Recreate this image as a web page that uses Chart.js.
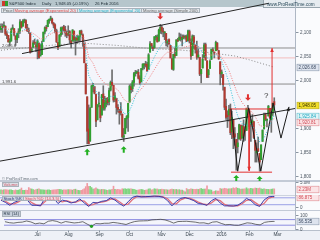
<!DOCTYPE html>
<html><head><meta charset="utf-8">
<script src="https://cdn.jsdelivr.net/npm/chart.js"></script>
<style>
*{box-sizing:border-box}
html,body{margin:0;padding:0}
body{width:320px;height:240px;position:relative;overflow:hidden;background:#f4f5fb;font-family:"Liberation Sans",Arial,sans-serif;}
.bg{position:absolute;z-index:0}
canvas{position:absolute;left:0;z-index:1}
.tx{position:absolute;z-index:2;white-space:nowrap;font-size:4.2px;line-height:5px;color:#1c2a33}
.box{background:#e2e7ec;border:0.5px solid #a9b2bb;padding:0 1px;height:5.4px;line-height:4.6px}
</style></head><body>
<div class="bg" style="left:295px;top:0;width:25px;height:240px;background:#fafbfd"></div>
<div class="bg" style="left:0;top:0;width:320px;height:7px;background:#b6c6cc"></div>
<div class="bg" style="left:263px;top:0;width:57px;height:8px;background:#e6ecf0;border-left:1px solid #98a6ae;border-bottom:1px solid #98a6ae"></div>
<div class="bg" style="left:0;top:180px;width:320px;height:1.5px;background:#c3cad6"></div>
<div class="bg" style="left:0;top:194.5px;width:320px;height:1px;background:#cdd3de"></div>
<div class="bg" style="left:0;top:209.5px;width:320px;height:1.5px;background:#c3cad6"></div>
<div class="bg" style="left:0;top:230px;width:320px;height:10px;background:#eef1f7;border-top:1px solid #b8c0cc"></div>

<div class="tx" style="left:1.5px;top:1.2px;width:6px;height:4.5px;background:linear-gradient(90deg,#d03a30 50%,#2f9f2f 50%)"></div>
<div class="tx" style="left:9px;top:1.2px">S&amp;P500 Index</div>
<div class="tx" style="left:42px;top:1.2px">Daily</div>
<div class="tx" style="left:55px;top:1.2px">1,948.05 (-0.19%)</div>
<div class="tx" style="left:95px;top:1.2px">26 Feb 2016</div>
<div class="tx" style="left:267px;top:1.5px;font-size:4.6px;color:#2a4a5a">www.ProRealTime.com</div>

<div class="tx box" style="left:1px;top:7.6px;color:#555">Price</div>
<div class="tx box" style="left:12.5px;top:7.6px;color:#e04848">Moving average (Exponential 20)</div>
<div class="tx box" style="left:77px;top:7.6px;color:#1eb0c8">Moving average (Exponential 20)</div>
<div class="tx box" style="left:141px;top:7.6px;color:#666">Moving average (Simple 200)</div>

<div class="tx" style="left:2px;top:175.5px;font-size:4px;color:#66707a">© ProRealTime.com</div>
<div class="tx box" style="left:1.5px;top:181.8px;color:#d06070;background:#dcdfe6">Volume</div>
<div class="tx box" style="left:1.5px;top:195.8px;color:#2a3270;background:#cfd6e2">Stoch %K</div>
<div class="tx box" style="left:23px;top:195.8px;color:#d04a60;background:#f0dde2">Stoch %D (14,3,5)</div>
<div class="tx box" style="left:1.5px;top:211.2px;color:#2a3a4a;background:#c8d0dc">RSI (14)</div>
<div class="tx" id="lvlA" style="left:2px;top:0;color:#444">2,066.6</div>
<div class="tx" id="lvlB" style="left:2px;top:0;color:#444">1,991.6</div>
<div class="tx" id="qm" style="left:0;top:0;font-size:8px;line-height:8px;color:#333">?</div>

<canvas id="cMain" width="320" height="181" style="top:0"></canvas>
<canvas id="cVol" width="320" height="14" style="top:181px"></canvas>
<canvas id="cSto" width="320" height="15" style="top:195px"></canvas>
<canvas id="cRsi" width="320" height="30" style="top:210px"></canvas>
<script>
// ---------- DATA (daily, 1 Jun 2015 .. 26 Feb 2016) ----------
const candleOpen=[2105,2111,2110,2112,2096,2093,2079,2081,2106,2107,2092,2084,2097,2101,2121,2112,2123,2124,2109,2102,2098,2062,
2068,2078,2073,2069,2077,2050,2053,2080,2100,2109,2111,2123,2127,2127,2118,2115,2103,2078,2070,2094,2107,2111,
2105,2098,2096,2101,2082,2081,2102,2082,2087,2083,2090,2102,2094,2077,2034,1965,1898,1873,1943,1987,1986,
1970,1917,1950,1947,1927,1971,1941,1951,1963,1955,1979,1995,1989,1960,1962,1943,1935,1935,1929,1881,1888,
1919,1922,1954,1986,1982,1995,2014,2015,2016,2004,1996,2025,2031,2033,2033,2022,2058,2076,2068,2067,2089,2089,
2081,2102,2110,2101,2098,2097,2077,2084,2072,2044,2022,2053,2051,2083,2083,2089,2084,2089,2089,2091,
2082,2101,2081,2051,2090,2073,2061,2048,2047,2013,2025,2047,2074,2040,2011,2024,2043,2063,2058,2061,2077,2061,
2038,2013,2011,1985,1945,1927,1927,1940,1892,1917,1888,1876,1861,1877,1906,1879,1903,1895,1895,
1937,1935,1908,1911,1913,1874,1848,1857,1847,1834,1872,1898,1928,1916,1925,1941,1917,1931,1955];
const candleHigh=[2117,2117,2121,2113,2101,2093,2086,2108,2115,2107,2092,2098,2107,2126,2122,2126,2127,2126,2116,2108,2098,2067,
2082,2085,2078,2084,2077,2075,2081,2100,2111,2114,2125,2127,2133,2129,2120,2117,2106,2078,2095,2110,2111,2114,
2112,2102,2113,2103,2082,2105,2102,2090,2093,2092,2103,2104,2096,2077,2034,1965,1948,1943,1989,1993,1987,
1970,1948,1975,1947,1970,1988,1966,1962,1963,1983,1998,2021,1989,1974,1962,1949,1939,1953,1929,1899,1920,
1926,1951,1990,1992,1999,2016,2020,2019,2022,2009,2024,2034,2034,2039,2037,2055,2080,2076,2071,2090,2093,2094,
2106,2116,2114,2108,2101,2097,2084,2086,2072,2045,2054,2066,2084,2087,2098,2096,2094,2094,2093,2094,
2104,2104,2086,2094,2093,2073,2081,2065,2047,2022,2053,2077,2077,2040,2022,2042,2064,2067,2058,2081,2078,2062,
2038,2021,2012,1985,1960,1936,1947,1950,1935,1917,1901,1876,1889,1908,1906,1906,1917,1902,1940,
1947,1935,1918,1928,1914,1874,1869,1881,1847,1865,1896,1931,1931,1919,1947,1941,1933,1952,1963];
const candleLow=[2099,2099,2109,2093,2086,2079,2072,2081,2106,2092,2072,2078,2088,2097,2108,2112,2119,2108,2101,2097,2056,2058,
2068,2074,2059,2044,2045,2050,2053,2080,2096,2102,2111,2118,2124,2117,2109,2098,2078,2063,2070,2091,2095,2102,
2091,2088,2092,2077,2067,2081,2080,2052,2076,2080,2080,2094,2070,2036,1971,1867,1867,1872,1943,1975,1971,
1903,1917,1944,1913,1927,1937,1937,1944,1948,1948,1977,1987,1954,1955,1929,1933,1908,1927,1879,1872,1888,
1900,1893,1954,1973,1976,1987,2008,2013,2002,1991,1996,2021,2023,2027,2018,2022,2058,2066,2061,2066,2083,2079,
2081,2097,2096,2090,2084,2071,2069,2074,2046,2022,2020,2046,2051,2080,2083,2081,2071,2086,2085,2080,
2082,2077,2043,2051,2066,2056,2043,2046,2009,1994,2025,2047,2041,2005,2005,2024,2043,2059,2046,2061,2062,2043,
1990,2005,1979,1938,1918,1901,1914,1886,1878,1857,1864,1812,1848,1877,1874,1879,1872,1874,1895,
1921,1898,1872,1903,1878,1829,1829,1851,1810,1834,1872,1898,1915,1902,1925,1920,1891,1926,1937];
const candleClose=[2111.7,2109.6,2114.1,2095.8,2092.8,2079.3,2080.2,2105.2,2108.9,2094.1,2084.4,2096.3,2100.4,2121.2,2110.0,2122.9,2124.2,2108.6,2102.3,2101.5,2057.6,2063.1,
2077.4,2076.8,2068.8,2081.3,2046.7,2051.3,2076.6,2099.6,2109.0,2107.4,2124.3,2126.6,2128.3,2119.2,2114.2,2102.2,2079.7,2067.6,2093.3,2108.6,2108.6,2103.8,
2098.0,2093.3,2099.8,2083.6,2077.6,2104.2,2084.1,2086.1,2083.4,2091.5,2102.4,2096.9,2079.6,2035.7,1970.9,1893.2,1867.6,1940.5,1987.7,1988.9,1972.2,
1913.9,1948.9,1951.1,1921.2,1969.4,1942.0,1952.3,1961.1,1953.0,1978.1,1995.3,1990.2,1958.0,1967.0,1942.7,1938.8,1932.2,1931.3,1881.8,1884.1,1920.0,
1923.8,1951.4,1987.1,1979.9,1995.8,2013.4,2014.9,2017.5,2003.7,1994.2,2023.9,2033.1,2033.7,2030.8,2018.9,2052.5,2075.2,2071.2,2065.9,2090.4,2089.4,2079.4,
2104.1,2109.8,2102.3,2099.9,2099.2,2078.6,2081.7,2075.0,2046.0,2023.0,2053.2,2050.4,2083.6,2081.2,2089.2,2086.6,2089.1,2088.9,2090.1,2080.4,
2102.6,2079.5,2049.6,2091.7,2077.1,2063.6,2047.6,2052.2,2012.4,2021.9,2043.4,2073.1,2041.9,2005.6,2021.2,2039.0,2064.3,2061.0,2056.5,2078.4,2063.4,2043.9,
2012.7,2016.7,1990.3,1943.1,1922.0,1923.7,1938.7,1890.3,1921.8,1880.3,1881.3,1859.3,1869.0,1906.9,1877.1,1903.6,1883.0,1893.4,1940.2,
1939.4,1903.0,1912.5,1915.5,1880.1,1853.4,1852.2,1851.9,1829.1,1864.8,1895.6,1926.8,1917.8,1917.8,1945.5,1921.3,1929.8,1951.7,1948.05];
const volumeM=[1.8,1.7,1.8,1.9,1.8,1.7,1.8,1.8,1.6,1.5,1.8,1.6,1.7,1.9,2.6,1.6,1.6,1.7,1.6,2.8,2.3,2.2,
1.9,1.7,1.9,2.1,2.2,1.9,1.8,1.8,1.7,1.7,1.8,1.8,1.6,1.7,1.8,1.8,1.9,2.0,2.0,1.9,1.7,1.8,
1.8,1.8,1.9,1.9,1.8,1.7,2.0,2.1,1.7,1.6,1.5,1.6,1.9,2.3,3.2,4.6,3.3,3.3,2.8,2.1,2.3,
2.7,2.2,1.9,1.9,2.0,2.0,1.9,1.7,1.6,1.8,1.8,2.0,3.4,2.0,1.9,2.0,1.9,1.8,2.3,2.2,2.3,
2.1,2.2,2.2,2.2,2.1,2.0,1.8,1.6,1.8,1.9,2.0,1.9,1.6,1.7,1.8,2.2,2.3,1.8,1.9,2.3,2.1,2.2,
1.9,2.0,2.1,2.0,1.9,1.9,1.8,1.7,2.0,2.1,2.0,1.9,2.0,1.8,1.9,1.7,1.7,1.4,0.9,2.4,
1.9,2.0,2.2,2.1,2.0,2.0,2.1,2.0,2.2,2.4,2.1,2.1,2.2,3.6,1.9,1.8,1.7,0.9,1.2,1.4,1.3,1.3,
2.4,2.2,2.3,2.5,2.4,2.2,2.2,2.3,2.4,2.7,2.4,2.8,2.5,2.3,2.1,2.1,2.2,2.3,2.7,
2.2,2.3,2.5,2.3,2.3,2.6,2.5,2.4,2.6,2.2,2.1,2.2,2.1,2.0,2.0,1.9,2.1,2.2,2.23];

// sampled indicator readings (trading-day index)
const sampleIdx=[0,3,6,9,12,15,18,21,24,27,30,33,36,39,42,45,48,51,54,57,60,63,66,69,72,75,78,81,84,87,90,93,96,99,102,105,108,111,114,117,120,123,126,129,132,135,138,141,144,147,150,153,156,159,162,165,168,171,174,177,180,183,186,187];
const emaCyan=[2110,2108,2097,2096,2096,2104,2107,2095,2084,2073,2083,2098,2107,2100,2102,2100,2094,2091,2092,2081,2010,1992,1969,1962,1958,1966,1966,1955,1930,1929,1950,1975,1992,2009,2028,2048,2065,2078,2082,2070,2068,2073,2079,2081,2078,2071,2057,2046,2045,2053,2048,2023,1995,1958,1925,1909,1906,1910,1896,1871,1879,1899,1921,1925.84];
const emaPink=[2110,2110,2104,2101,2099,2102,2104,2099,2093,2085,2088,2094,2099,2098,2100,2099,2096,2094,2094,2088,2048,2035,2013,2000,1990,1988,1984,1976,1960,1953,1960,1972,1981,1993,2007,2022,2037,2050,2058,2057,2060,2064,2069,2071,2072,2069,2062,2055,2052,2054,2051,2038,2020,1995,1970,1953,1942,1936,1924,1905,1903,1908,1917,1920.81];
const stochK=[60,40,15,40,55,85,60,15,15,10,75,92,80,30,60,50,35,45,70,35,5,40,35,50,55,80,60,30,8,45,85,95,88,90,92,95,92,85,55,10,50,75,82,70,55,30,25,15,55,75,35,10,10,8,15,40,75,55,20,5,60,88,92,92];
const stochD=[62,50,28,28,45,70,72,38,18,12,45,80,88,55,45,55,42,40,58,52,15,20,38,42,52,68,70,45,18,25,65,90,92,89,91,93,94,89,72,30,28,62,78,78,62,42,28,20,35,65,55,22,10,9,11,28,58,65,38,12,30,75,88,86.875];
const rsi14=[55,48,45,50,52,60,53,40,45,40,58,63,57,45,56,51,46,49,55,38,22,42,40,44,44,50,46,41,35,47,56,60,61,62,68,70,72,68,58,45,56,57,58,55,52,46,47,40,52,55,43,33,35,30,29,38,47,44,36,32,50,55,57,56.535];
const sma200Idx=[0,20,40,60,80,100,120,140,160,170,180,187];
const sma200=[2062,2068,2074,2076,2072,2066,2063,2058,2050,2042,2033,2026.68];

// axis ticks / labels
const priceTicks=[2100,2050,2000,1900,1850,1800];
const monthIdx=[22,44,65,86,108,128,150,169,189];
const monthLabels=['Jul','Aug','Sep','Oct','Nov','Dec','2016','Feb','Mar'];
const lastClose=1948.05, lastEmaCyan=1925.84, lastEmaPink=1920.81, lastSma200=2026.68;
const lastVolume=2.23, lastStoch=86.875, lastRsi=56.535;

// drawn studies (index, price)
const refLevels=[2066.7,1991.6];
const pinkLevel=2046;
const upperTrendIdx=[14.4,183.5], upperTrendPrice=[2055,2160];
const lowerTrendIdx=[-0.68,201.2], lowerTrendPrice=[1831,1940.6];
const wIdx=[157.4,162,169.5,177.8,186.2,191.6,197.1];
const wPrice=[1940,1810,1942,1810,1952,1879,1944];
const necklineIdx=[157.4,185.5], necklinePrice=1939.6;
const floorIdx=[157.4,185.5], floorPrice=1808;
const measureIdx=169.8, measureTop=1939.6, measureBottom=1811;
const targetIdx=185.5, targetTop=2066.7;
const upArrowIdx=[59,84,161,177], upArrowPrice=[1857,1862,1802,1800];
const downArrowIdx=[109,169], downArrowPrice=[2126,1957];
const qIdx=181.4, qPrice=1966;
const stochLevels=[80,20], rsiLevels=[70,30];
const rsiMarkIdx=60, rsiMarkVal=22;

// ---------- RENDERING ----------
const XMIN=-0.68, XMAX=201.2;
const N=candleClose.length;
const idx=candleClose.map((_,i)=>i);
const isUp=i=>candleClose[i]>=candleOpen[i];
const FONT='"Liberation Sans", Arial, sans-serif';

function fatArrow(ctx,px,py,up,color){
  const s=up?1:-1;
  ctx.fillStyle=color;ctx.beginPath();
  ctx.moveTo(px,py);ctx.lineTo(px+3,py+3*s);ctx.lineTo(px+1,py+3*s);ctx.lineTo(px+1,py+6.5*s);
  ctx.lineTo(px-1,py+6.5*s);ctx.lineTo(px-1,py+3*s);ctx.lineTo(px-3,py+3*s);ctx.closePath();ctx.fill();
}
function head(ctx,tx,ty,fx,fy,color){
  const a=Math.atan2(ty-fy,tx-fx),L=4,W=1.8;
  ctx.fillStyle=color;ctx.beginPath();ctx.moveTo(tx,ty);
  ctx.lineTo(tx-L*Math.cos(a)+W*Math.sin(a),ty-L*Math.sin(a)-W*Math.cos(a));
  ctx.lineTo(tx-L*Math.cos(a)-W*Math.sin(a),ty-L*Math.sin(a)+W*Math.cos(a));
  ctx.closePath();ctx.fill();
}
const deco={id:'deco',afterDatasetsDraw(chart,args,o){
  const {ctx,chartArea:a,scales:{x,y}}=chart;ctx.save();
  (o.arrows||[]).forEach(r=>fatArrow(ctx,x.getPixelForValue(r.i),y.getPixelForValue(r.p),r.up,r.color));
  (o.heads||[]).forEach(h=>head(ctx,x.getPixelForValue(h.i),y.getPixelForValue(h.p),x.getPixelForValue(h.fi),y.getPixelForValue(h.fp),h.color));
  ctx.fillStyle='#aeb7c4';ctx.fillRect(a.right,0,1,a.bottom);
  ctx.font='4.5px '+FONT;ctx.textBaseline='middle';
  const labs=(o.labels||[]).map(l=>Object.assign({py:y.getPixelForValue(l.v)},l));
  const boxes=labs.filter(l=>l.fill).sort((p,q)=>p.py-q.py);
  for(let k=1;k<boxes.length;k++){if(boxes[k].py-boxes[k-1].py<6.6)boxes[k].py=boxes[k-1].py+6.6;}
  labs.forEach(l=>{
    const py=Math.round(l.py)+0.5;
    if(l.fill){ctx.fillStyle=l.fill;ctx.fillRect(a.right+2,py-3.3,22,6.6);ctx.strokeStyle=l.stroke;ctx.lineWidth=0.6;ctx.strokeRect(a.right+2,py-3.3,22,6.6);}
    else{ctx.fillStyle='#8a94a0';ctx.fillRect(a.right+1,py-0.5,2.5,1);}
    ctx.fillStyle=l.color||'#4a5560';ctx.fillText(l.text,a.right+(l.fill?3.5:5),py);
  });
  if(o.xLabels){
    ctx.textAlign='center';ctx.fillStyle='#3a4650';ctx.font='4.6px '+FONT;
    monthIdx.forEach((m,k)=>{const px=Math.round(x.getPixelForValue(m))+0.5;
      ctx.fillStyle='#8a94a0';ctx.fillRect(px-0.5,a.bottom+0.5,1,2);
      ctx.fillStyle='#3a4650';ctx.fillText(monthLabels[k],px,a.bottom+5);});
  }
  ctx.restore();
}};
Chart.register(deco);

function opts(ymin,ymax,padB,decoOpts){
  return {responsive:false,animation:false,events:[],devicePixelRatio:1,
    layout:{padding:{left:0,right:25,top:0,bottom:padB||0}},
    plugins:{legend:{display:false},tooltip:{enabled:false},deco:decoOpts},
    scales:{x:{type:'linear',offset:false,display:false,min:XMIN,max:XMAX},y:{display:false,min:ymin,max:ymax}}};
}
const line=(xs,ys,color,w,dash,order)=>({type:'line',data:xs.map((v,k)=>({x:v,y:Array.isArray(ys)?ys[k]:ys})),
  borderColor:color,borderWidth:w,borderDash:dash||[],pointRadius:0,fill:false,tension:0,order:order});
const fmt=v=>v.toLocaleString('en-US',{minimumFractionDigits:0,maximumFractionDigits:2});

const mainDatasets=[
  line([XMIN,XMAX],refLevels[0],'#8c8c8c',1,[],20),
  line([XMIN,XMAX],refLevels[1],'#8c8c8c',1,[],20),
  line([XMIN,XMAX],pinkLevel,'#f3bcbc',1,[],20),
  line(sma200Idx,sma200,'#8a8a8a',1,[1,2],15),
  {type:'bar',data:idx.map(i=>({x:i,y:[candleLow[i],candleHigh[i]]})),backgroundColor:'#6e6e6e',barThickness:1,grouped:false,order:12},
  {type:'bar',data:idx.map(i=>({x:i,y:[candleOpen[i],candleClose[i]]})),backgroundColor:idx.map(i=>isUp(i)?'#2f9f2f':'#b23a30'),barThickness:1.4,minBarLength:1,grouped:false,order:11},
  line(sampleIdx,emaPink,'#f07878',1,[1,1.5],9),
  line(sampleIdx,emaCyan,'#35c3d6',1,[1,1.5],9),
  line(upperTrendIdx,upperTrendPrice,'#262626',1,[],7),
  line(lowerTrendIdx,lowerTrendPrice,'#262626',1,[],7),
  line(necklineIdx,necklinePrice,'#e23030',1,[],5),
  line(floorIdx,floorPrice,'#e23030',1,[],5),
  line([measureIdx,measureIdx],[measureTop,measureBottom],'#e23030',1,[],5),
  line([targetIdx,targetIdx],[necklinePrice,targetTop],'#e23030',1,[],5),
  line(wIdx,wPrice,'#1a1a1a',1,[],4)
];
const mainDeco={
  arrows:upArrowIdx.map((v,k)=>({i:v,p:upArrowPrice[k],up:true,color:'#22b022'}))
    .concat(downArrowIdx.map((v,k)=>({i:v,p:downArrowPrice[k],up:false,color:'#e03030'}))),
  heads:[{i:targetIdx,p:targetTop,fi:targetIdx,fp:necklinePrice,color:'#e23030'},
         {i:measureIdx,p:measureBottom,fi:measureIdx,fp:measureTop,color:'#e23030'},
         {i:wIdx[6],p:wPrice[6],fi:wIdx[5],fp:wPrice[5],color:'#1a1a1a'}],
  labels:priceTicks.map(v=>({v,text:fmt(v)})).concat([
    {v:lastSma200,text:fmt(lastSma200),fill:'#dde3ee',stroke:'#8e9bb0',color:'#3b4a60'},
    {v:lastClose,text:fmt(lastClose),fill:'#f1df2a',stroke:'#b8a820',color:'#3a3300'},
    {v:lastEmaCyan,text:fmt(lastEmaCyan),fill:'#dff4f7',stroke:'#60c0d0',color:'#1ea8c0'},
    {v:lastEmaPink,text:fmt(lastEmaPink),fill:'#fbe4e6',stroke:'#e08a90',color:'#d04a55'}])
};
const main=new Chart(document.getElementById('cMain'),{type:'bar',data:{datasets:mainDatasets},options:opts(1789.58,2166.67,0,mainDeco)});

new Chart(document.getElementById('cVol'),{type:'bar',data:{datasets:[
  {data:idx.map(i=>({x:i,y:volumeM[i]})),backgroundColor:idx.map(i=>isUp(i)?'#7fd47f':'#f09aa2'),barThickness:1,grouped:false}]},
  options:opts(-0.43,5.65,0,{labels:[{v:5,text:'5.0M'},{v:lastVolume,text:lastVolume.toFixed(2)+'M',fill:'#fbe4e6',stroke:'#e08a90',color:'#d04a55'}]})});

new Chart(document.getElementById('cSto'),{type:'line',data:{datasets:[
  line([XMIN,XMAX],stochLevels[0],'#9aa0e6',1,[],20),
  line([XMIN,XMAX],stochLevels[1],'#9aa0e6',1,[],20),
  line(sampleIdx,stochD,'#e0707c',1.3,[],5),
  line(sampleIdx,stochK,'#3a3aa8',1,[],4)]},
  options:opts(-26,104.3,0,{labels:[{v:0,text:'0'},{v:lastStoch,text:String(lastStoch),fill:'#fbe4e6',stroke:'#e08a90',color:'#d04a55'}]})});

new Chart(document.getElementById('cRsi'),{type:'line',data:{datasets:[
  line([XMIN,XMAX],rsiLevels[0],'#8c8ce0',1,[],20),
  line([XMIN,XMAX],rsiLevels[1],'#8c8ce0',1,[],20),
  line(sampleIdx,rsi14,'#4a4a4a',0.8,[],5),
  {type:'scatter',data:[{x:rsiMarkIdx,y:rsiMarkVal}],pointRadius:1.6,pointBackgroundColor:'#22a022',pointBorderWidth:0,order:1}]},
  options:opts(-4.3,110,10,{xLabels:true,labels:[{v:100,text:'100'},{v:0,text:'0'},{v:lastRsi,text:String(lastRsi),fill:'#dde3ee',stroke:'#8e9bb0',color:'#3b4a60'}]})});

// place html annotations with the main chart's scales
const mx=main.scales.x,my=main.scales.y;
document.getElementById('lvlA').style.top=(my.getPixelForValue(refLevels[0])-5.2)+'px';
document.getElementById('lvlB').style.top=(my.getPixelForValue(refLevels[1])-5.2)+'px';
const q=document.getElementById('qm');
q.style.left=(mx.getPixelForValue(qIdx)-2)+'px';q.style.top=(my.getPixelForValue(qPrice)-4)+'px';
</script>
</body></html>
